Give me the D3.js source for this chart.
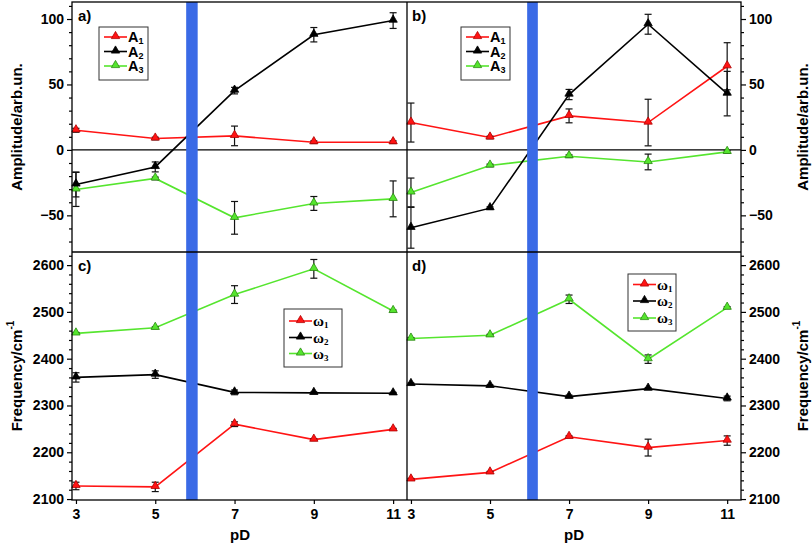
<!DOCTYPE html>
<html><head><meta charset="utf-8">
<script src="https://cdn.jsdelivr.net/npm/d3@7"></script>
<style>body{margin:0;background:#fff}svg{display:block}</style>
</head><body>
<svg id="c" width="812" height="545"></svg>
<script>
// ---- data ----
const pD = [3, 5, 7, 9, 11];
const xTicks = [3, 5, 7, 9, 11];
const ampTicks = [-50, 0, 50, 100];
const freqTicks = [2100, 2200, 2300, 2400, 2500, 2600];

const aA1 = [15, 8.7, 10.7, 5.9, 5.9];
const aA1err = [1.5, 1, 7.5, 1, 1];
const aA2 = [-26.4, -13, 45.3, 88, 98.8];
const aA2err = [9.5, 3.8, 2.5, 5.5, 6];
const aA3 = [-30.2, -21.8, -51.9, -40.9, -37.4];
const aA3err = [13, 1, 12.5, 5.3, 13.7];

const bA1 = [20.9, 9.5, 26, 20.9, 63.9];
const bA1err = [14.9, 1, 5.3, 17.8, 18];
const bA2 = [-59.5, -44.5, 42.3, 96, 43];
const bA2err = [15.6, 1, 3.9, 7.6, 17];
const bA3 = [-32.5, -11.9, -4.8, -9.2, -1.5];
const bA3err = [11, 1, 1, 6, 1];

const cW1 = [2128, 2126, 2260, 2227, 2249];
const cW1err = [8, 10, 5, 2, 2];
const cW2 = [2360, 2366, 2328, 2327, 2326];
const cW2err = [10, 8, 5, 2, 2];
const cW3 = [2454, 2466, 2537, 2592, 2502];
const cW3err = [2, 2, 19, 20, 2];

const dW1 = [2142, 2157, 2233, 2210, 2225];
const dW1err = [2, 2, 2, 18, 10];
const dW2 = [2346, 2342, 2319, 2336, 2315];
const dW2err = [2, 2, 3, 2, 5];
const dW3 = [2443, 2450, 2527, 2399, 2509];
const dW3err = [2, 2, 9, 9, 2];

const bandLeft = [5.78, 6.07];
const bandRight = [5.94, 6.21];

const colors = ["#ff1414", "#000000", "#55e52e"];
const strokes = ["#b00000", "#000000", "#2a8a10"];

// ---- layout ----
const svg = d3.select("#c");
const L = 72, M = 407, R = 741, T = 2, MID = 252, B = 500;
const xL = d3.scaleLinear().domain([2.9, 11.35]).range([L, M]);
const xR = d3.scaleLinear().domain([2.9, 11.35]).range([M, R]);
const yTop = d3.scaleLinear().domain([-78, 113]).range([MID, T]);
const yBot = d3.scaleLinear().domain([2098, 2628]).range([B, MID]);

const font = "'Liberation Sans', Arial, sans-serif";
const serif = "'Liberation Serif', 'Times New Roman', serif";

function drawSeries(g, x, y, vals, errs, ci) {
  const line = d3.line().x((d, i) => x(pD[i])).y(d => y(d));
  g.append("path").datum(vals).attr("d", line)
    .attr("fill", "none").attr("stroke", colors[ci]).attr("stroke-width", 1.6);
}
function drawErr(g, x, y, vals, errs) {
  vals.forEach((v, i) => {
    const cx = x(pD[i]), y1 = y(v + errs[i]), y2 = y(v - errs[i]);
    g.append("line").attr("x1", cx).attr("x2", cx).attr("y1", y1).attr("y2", y2)
      .attr("stroke", "#111").attr("stroke-width", 1.2);
    [y1, y2].forEach(yy => g.append("line").attr("x1", cx - 3.5).attr("x2", cx + 3.5)
      .attr("y1", yy).attr("y2", yy).attr("stroke", "#111").attr("stroke-width", 1.2));
  });
}
const tri = d3.symbol().type(d3.symbolTriangle).size(30);
function drawMarkers(g, x, y, vals, ci) {
  vals.forEach((v, i) => {
    g.append("path").attr("d", tri).attr("transform", `translate(${x(pD[i])},${y(v) - 0.8})`)
      .attr("fill", colors[ci]).attr("stroke", strokes[ci]).attr("stroke-width", 0.8);
  });
}
function panel(x, y, series) {
  const g = svg.append("g");
  series.forEach(s => drawSeries(g, x, y, s[0], s[1], s[2]));
  series.forEach(s => drawErr(g, x, y, s[0], s[1]));
  series.forEach(s => drawMarkers(g, x, y, s[0], s[2]));
}

// zero lines
[[L, M], [M, R]].forEach(([a, b]) =>
  svg.append("line").attr("x1", a).attr("x2", b).attr("y1", yTop(0)).attr("y2", yTop(0))
    .attr("stroke", "#000").attr("stroke-width", 1.2));

panel(xL, yTop, [[aA1, aA1err, 0], [aA3, aA3err, 2], [aA2, aA2err, 1]]);
panel(xR, yTop, [[bA1, bA1err, 0], [bA3, bA3err, 2], [bA2, bA2err, 1]]);
panel(xL, yBot, [[cW1, cW1err, 0], [cW3, cW3err, 2], [cW2, cW2err, 1]]);
panel(xR, yBot, [[dW1, dW1err, 0], [dW3, dW3err, 2], [dW2, dW2err, 1]]);

// blue bands
svg.append("rect").attr("x", xL(bandLeft[0])).attr("width", xL(bandLeft[1]) - xL(bandLeft[0]))
  .attr("y", T).attr("height", B - T).attr("fill", "#3a6ae6");
svg.append("rect").attr("x", xR(bandRight[0])).attr("width", xR(bandRight[1]) - xR(bandRight[0]))
  .attr("y", T).attr("height", B - T).attr("fill", "#3a6ae6");

// frames
const fr = svg.append("g").attr("stroke", "#000").attr("stroke-width", 1.3).attr("fill", "none");
fr.append("rect").attr("x", L).attr("y", T).attr("width", R - L).attr("height", B - T);
fr.append("line").attr("x1", M).attr("x2", M).attr("y1", T).attr("y2", B);
fr.append("line").attr("x1", L).attr("x2", R).attr("y1", MID).attr("y2", MID);

// axes
function styleAxis(g) {
  g.select(".domain").remove();
  g.selectAll("text").attr("font-family", font).attr("font-weight", "bold").attr("font-size", 14).attr("fill", "#000");
  g.selectAll("line").attr("stroke", "#000").attr("stroke-width", 1.2);
}
function yAxisWithMinor(axisFn, scale, xpos, major, minor) {
  svg.append("g").attr("transform", `translate(${xpos},0)`)
    .call(axisFn(scale).tickValues(minor).tickSize(3).tickFormat(""))
    .call(styleAxis);
  svg.append("g").attr("transform", `translate(${xpos},0)`)
    .call(axisFn(scale).tickValues(major).tickSize(5).tickPadding(3).tickFormat(d3.format("d")))
    .call(styleAxis);
}
const ampMinor = d3.range(-70, 111, 10).filter(v => v % 50 !== 0);
const freqMinor = d3.range(2100, 2621, 20).filter(v => v % 100 !== 0);
yAxisWithMinor(d3.axisLeft, yTop, L, ampTicks, ampMinor);
yAxisWithMinor(d3.axisLeft, yBot, L, freqTicks, freqMinor);
yAxisWithMinor(d3.axisRight, yTop, R, ampTicks, ampMinor);
yAxisWithMinor(d3.axisRight, yBot, R, freqTicks, freqMinor);

[xL, xR].forEach(x => {
  svg.append("g").attr("transform", `translate(0,${B})`)
    .call(d3.axisBottom(x).tickValues(xTicks).tickSize(4).tickPadding(5).tickFormat(d3.format("d")))
    .call(styleAxis);
});

// axis titles
function title(txt, x, y, rot, sup) {
  const t = svg.append("text").attr("transform", `translate(${x},${y}) rotate(${rot})`)
    .attr("text-anchor", "middle").attr("font-family", font).attr("font-weight", "bold")
    .attr("font-size", 15).attr("fill", "#000").text(txt);
  if (sup) t.append("tspan").attr("font-size", 10).attr("dy", -8).text(sup);
}
title("Amplitude/arb.un.", 22, 127, -90);
title("Amplitude/arb.un.", 808, 127, -90);
title("Frequency/cm", 22, 376, -90, "-1");
title("Frequency/cm", 808, 376, -90, "-1");
title("pD", 240, 540, 0);
title("pD", 574, 540, 0);

// panel labels
[["a)", 78, 21], ["b)", 412, 21], ["c)", 78, 271], ["d)", 412, 271]].forEach(([t, x, y]) =>
  svg.append("text").attr("x", x).attr("y", y).attr("font-family", font).attr("font-weight", "bold")
    .attr("font-size", 15).text(t));

// legends
function legend(x0, y0, w, h, rows, base, fam, fs, bold) {
  const g = svg.append("g");
  g.append("rect").attr("x", x0).attr("y", y0).attr("width", w).attr("height", h)
    .attr("fill", "#fff").attr("stroke", "#333").attr("stroke-width", 1);
  rows.forEach((ry, i) => {
    g.append("line").attr("x1", x0 + 5).attr("x2", x0 + 28).attr("y1", ry).attr("y2", ry)
      .attr("stroke", colors[i]).attr("stroke-width", 1.6);
    g.append("path").attr("d", tri).attr("transform", `translate(${x0 + 16.5},${ry - 0.8})`)
      .attr("fill", colors[i]).attr("stroke", strokes[i]).attr("stroke-width", 0.8);
    const t = g.append("text").attr("x", x0 + 29).attr("y", ry + 5).attr("font-family", fam)
      .attr("font-size", fs).attr("font-weight", bold ? "bold" : "normal").text(base);
    t.append("tspan").attr("font-size", 9).attr("dy", 2).text(String(i + 1));
  });
}
legend(99, 27, 49, 53, [37, 51.5, 66], "A", font, 14.5, true);
legend(461, 27, 49, 53, [37, 51.5, 66], "A", font, 14.5, true);
legend(284, 309, 58, 58, [321, 337.5, 353.5], "ω", serif, 15, true);
legend(628, 274, 48, 57, [284.5, 301, 318], "ω", serif, 15, true);
</script>
</body></html>
